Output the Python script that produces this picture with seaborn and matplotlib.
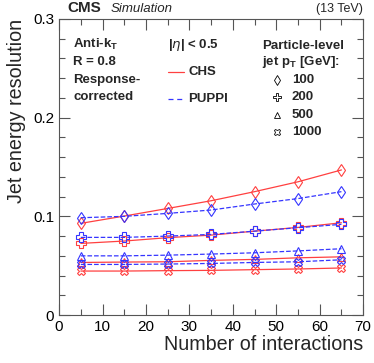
import numpy as np
import pandas as pd
import matplotlib
matplotlib.use("Agg")
import matplotlib.pyplot as plt
import seaborn as sns
from matplotlib.lines import Line2D
from matplotlib.ticker import MultipleLocator

# data
n_int = [5, 15, 25, 35, 45, 55, 65]
pt_bins = ["100", "200", "500", "1000"]

chs_100 = [0.0929, 0.1003, 0.108, 0.1158, 0.125, 0.135, 0.147]
chs_200 = [0.0726, 0.075, 0.0784, 0.081, 0.085, 0.0888, 0.0935]
chs_500 = [0.0533, 0.0537, 0.054, 0.0554, 0.0564, 0.058, 0.059]
chs_1000 = [0.0446, 0.0446, 0.045, 0.0453, 0.046, 0.0467, 0.0477]

puppi_100 = [0.0986, 0.100, 0.103, 0.1064, 0.1125, 0.118, 0.125]
puppi_200 = [0.0787, 0.0787, 0.080, 0.0817, 0.085, 0.0885, 0.0919]
puppi_500 = [0.060, 0.060, 0.0607, 0.0618, 0.0631, 0.065, 0.0672]
puppi_1000 = [0.0513, 0.0513, 0.0517, 0.0523, 0.0533, 0.054, 0.056]

chs = [chs_100, chs_200, chs_500, chs_1000]
puppi = [puppi_100, puppi_200, puppi_500, puppi_1000]

markers = {"100": "d", "200": "P", "500": "^", "1000": "X"}
msizes = {"100": 6, "200": 6.5, "500": 5.5, "1000": 5.5}

sns.set_style("ticks")
plt.rcParams['font.family'] = ['Liberation Sans', 'DejaVu Sans']
plt.rcParams['mathtext.fontset'] = 'custom'
plt.rcParams['mathtext.rm'] = 'Liberation Sans'
plt.rcParams['mathtext.bf'] = 'Liberation Sans:bold'

fig = plt.figure(figsize=(3.74, 3.63), dpi=100)
ax = fig.add_axes([0.158, 0.132, 0.813, 0.816])

red = "#ff4040"
blue = "#3535ff"

for algo, series, col, ls in [("CHS", chs, red, "-"), ("PUPPI", puppi, blue, "--")]:
    for pt, vals in zip(pt_bins, series):
        df = pd.DataFrame({"npu": n_int, "res": vals})
        sns.lineplot(data=df, x="npu", y="res", ax=ax, color=col, linestyle=ls,
                     linewidth=0.9, marker=markers[pt], markersize=msizes[pt],
                     markerfacecolor="none", markeredgecolor=col,
                     markeredgewidth=0.8, dashes=False if ls == "-" else (4, 3))

ax.set_xlim(0, 70)
ax.set_ylim(0, 0.3)
ax.xaxis.set_major_locator(MultipleLocator(10))
ax.xaxis.set_minor_locator(MultipleLocator(5))
ax.yaxis.set_major_locator(MultipleLocator(0.1))
ax.yaxis.set_minor_locator(MultipleLocator(0.02))
ax.set_yticks([0, 0.1, 0.2, 0.3])
ax.set_yticklabels(["0", "0.1", "0.2", "0.3"])
ax.tick_params(which="both", direction="in", top=True, right=True, labelsize=11, colors="#555555", labelcolor="black")
ax.tick_params(which="major", length=8, width=0.8)
ax.tick_params(which="minor", length=4, width=0.8)
for s in ax.spines.values():
    s.set_linewidth(0.8)
    s.set_color("#555555")

ax.set_xlabel("Number of interactions", fontsize=14.2, loc="right", labelpad=1)
ax.set_ylabel("Jet energy resolution", fontsize=14.2, loc="top", labelpad=5)

fig.text(0.18, 0.958, "CMS", fontsize=11, fontweight="bold", ha="left", va="bottom")
fig.text(0.295, 0.958, "Simulation", fontsize=9.5, style="italic", ha="left", va="bottom")
fig.text(0.97, 0.958, "(13 TeV)", fontsize=9, ha="right", va="bottom")

tk = dict(transform=ax.transAxes, fontsize=9.5, fontweight="bold", va="center", ha="left")
ax.text(0.046, 0.912, r"Anti-k$_\mathbf{T}$", **tk)
ax.text(0.046, 0.855, "R = 0.8", **tk)
ax.text(0.046, 0.795, "Response-", **tk)
ax.text(0.046, 0.735, "corrected", **tk)

ax.text(0.359, 0.912, r"|$\eta$| < 0.5", **tk)
ax.add_line(Line2D([0.359, 0.41], [0.82, 0.82], transform=ax.transAxes, color=red, lw=0.9))
ax.text(0.425, 0.82, "CHS", **tk)
ax.add_line(Line2D([0.359, 0.41], [0.73, 0.73], transform=ax.transAxes, color=blue, lw=0.9, ls=(0, (4, 3))))
ax.text(0.425, 0.73, "PUPPI", **tk)

ax.text(0.668, 0.91, "Particle-level", **tk)
ax.text(0.668, 0.853, r"jet p$_\mathbf{T}$ [GeV]:", **tk)
ys = [0.795, 0.735, 0.675, 0.617]
for pt, y in zip(pt_bins, ys):
    ax.plot([0.717], [y], transform=ax.transAxes, marker=markers[pt], markersize=msizes[pt] - 0.5,
            mfc="none", mec="black", mew=0.6, ls="none")
    ax.text(0.765, y, pt, **tk)

fig.savefig("out.png", dpi=100)
